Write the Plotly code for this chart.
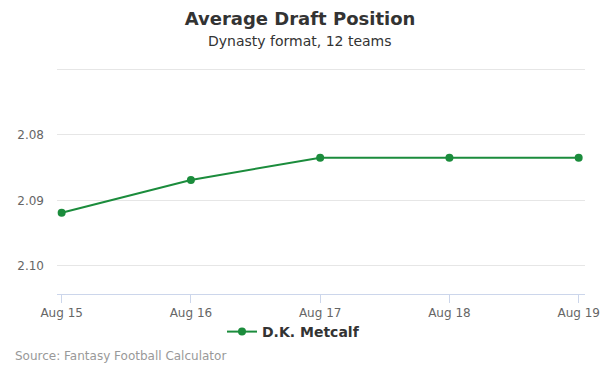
import plotly.graph_objects as go

dates = ["Aug 15", "Aug 16", "Aug 17", "Aug 18", "Aug 19"]
adp = [2.0919, 2.0869, 2.0835, 2.0835, 2.0835]
player = "D.K. Metcalf"
y_ticks = [2.07, 2.08, 2.09, 2.10]
y_tick_labels = ["", "2.08", "2.09", "2.10"]

font = "DejaVu Sans, Verdana, sans-serif"
green = "#1b8c3c"

# plot area in pixels
L, R, T, B = 57, 585, 64, 294
W, H = R - L, B - T

def px_x(p):
    return (p - L) / W

def px_y(p):
    return (B - p) / H

fig = go.Figure()
fig.add_trace(go.Scatter(
    x=dates, y=adp, mode="lines+markers", name="<b>" + player + "</b>",
    line=dict(color=green, width=2),
    marker=dict(color=green, size=8),
))

fig.update_layout(
    width=600, height=375, autosize=False,
    margin=dict(l=L, r=600 - R, t=T, b=375 - B, pad=0, autoexpand=False),
    paper_bgcolor="white", plot_bgcolor="white",
    font=dict(family=font, color="#666666", size=12),
    title=dict(
        text="<b>Average Draft Position</b>",
        x=0.5, xanchor="center", y=1 - 19 / 375, yanchor="middle",
        xref="container", yref="container",
        font=dict(size=18, color="#333333", family=font),
    ),
    annotations=[
        dict(text="Dynasty format, 12 teams", x=px_x(300), xref="paper", y=px_y(41),
             yref="paper", xanchor="center", yanchor="middle", showarrow=False,
             font=dict(size=14, color="#333333", family=font)),
        dict(text="Source: Fantasy Football Calculator", x=px_x(13), xref="paper",
             xanchor="left", y=px_y(356), yref="paper", yanchor="middle",
             showarrow=False, font=dict(size=12, color="#999999", family=font)),
    ],
    showlegend=True,
    legend=dict(
        orientation="h", x=px_x(222), xanchor="left", xref="paper",
        y=px_y(332), yref="paper", yanchor="middle",
        bgcolor="rgba(0,0,0,0)",
        font=dict(size=14, color="#333333", family=font),
        itemwidth=30, itemclick=False,
    ),
    xaxis=dict(
        type="category", range=[-0.036, 4.049], automargin=False,
        showgrid=False, showline=True, linecolor="#ccd6eb", linewidth=1,
        ticks="outside", ticklen=8, tickcolor="#ccd6eb",
        tickfont=dict(size=12, color="#666666"),
        zeroline=False,
    ),
    yaxis=dict(
        autorange=False, range=[2.1043, 2.0692], automargin=False,
        tickvals=y_ticks, ticktext=y_tick_labels,
        showgrid=True, gridcolor="#e6e6e6", gridwidth=1,
        showline=False, zeroline=False,
        ticklabelstandoff=12,
        tickfont=dict(size=12, color="#666666"),
    ),
)

fig.write_html("out.html", config={"displayModeBar": False})

with open("out.html", encoding="utf-8") as f:
    html = f.read()
html = html.replace("<body>", "<body style=\"margin:0;padding:0;overflow:hidden\">", 1)
with open("out.html", "w", encoding="utf-8") as f:
    f.write(html)
